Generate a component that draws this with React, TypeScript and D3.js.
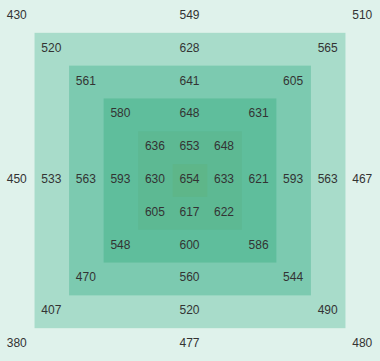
import React from "react";
import * as d3 from "d3";

const W = 380;
const H = 361;

// ring labels: TL, TM, TR, ML, MR, BL, BM, BR
const ring0 = [430, 549, 510, 450, 467, 380, 477, 480];
const ring1 = [520, 628, 565, 533, 563, 407, 520, 490];
const ring2 = [561, 641, 605, 563, 593, 470, 560, 544];
const ring3 = [580, 648, 631, 593, 621, 548, 600, 586];
const ring4 = [636, 653, 648, 630, 633, 605, 617, 622];
const center = [654];
const rings = [ring0, ring1, ring2, ring3, ring4];
const ringColors = ["#dff2eb", "#a8dcca", "#7ccab0", "#5fbe9c", "#5db993", "#5eb689"];

export default function App() {
  const idx = d3.range(11);
  const x = d3.scaleBand<number>().domain(idx).range([0, W]).padding(0);
  const y = d3.scaleBand<number>().domain(idx).range([0, H]).padding(0);
  const bw = x.bandwidth();
  const bh = y.bandwidth();
  const N = 10;

  const cells: { c: number; r: number; v: number }[] = [];
  rings.forEach((vals, i) => {
    const lo = i;
    const mid = 5;
    const hi = N - i;
    const pos = [
      [lo, lo], [mid, lo], [hi, lo],
      [lo, mid], [hi, mid],
      [lo, hi], [mid, hi], [hi, hi],
    ];
    vals.forEach((v, k) => cells.push({ c: pos[k][0], r: pos[k][1], v }));
  });
  cells.push({ c: 5, r: 5, v: center[0] });

  return (
    <svg width={W} height={H} style={{ position: "absolute", left: 0, top: 0, display: "block" }}>
      {ringColors.map((col, i) => (
        <rect
          key={i}
          x={x(i)!}
          y={y(i)!}
          width={x(N - i)! + bw - x(i)!}
          height={y(N - i)! + bh - y(i)!}
          fill={col}
        />
      ))}
      {cells.map((d, i) => (
        <text
          key={i}
          x={x(d.c)! + bw / 2 - 0.5}
          y={y(d.r)! + bh / 2 - 1.5}
          textAnchor="middle"
          dominantBaseline="central"
          fontFamily="'Liberation Sans', Arial, sans-serif"
          fontSize={12}
          fill="#333"
        >
          {d.v}
        </text>
      ))}
    </svg>
  );
}
